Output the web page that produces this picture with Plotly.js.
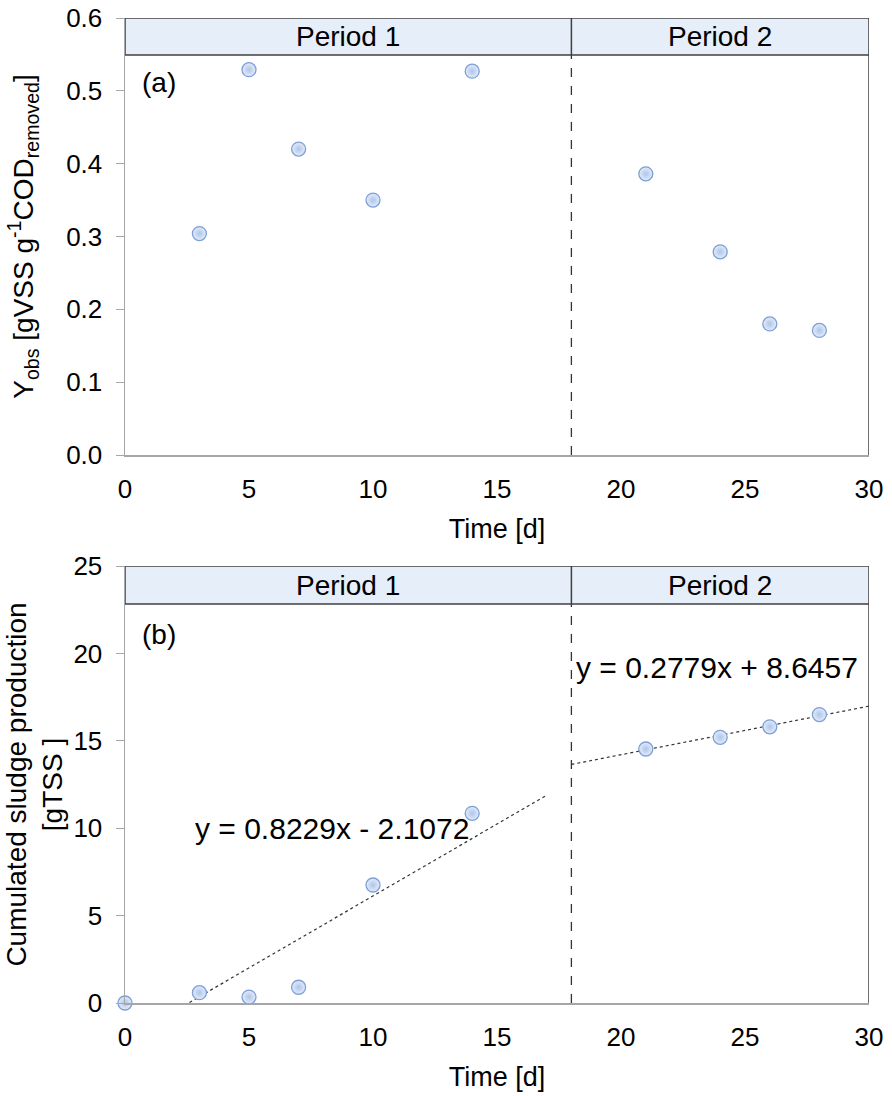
<!DOCTYPE html>
<html>
<head>
<meta charset="utf-8">
<script src="https://cdn.plot.ly/plotly-3.0.1.min.js"></script>
<style>html,body{margin:0;padding:0;background:#fff;}#chart{width:892px;height:1096px;}</style>
</head>
<body>
<div id="chart"></div>
<script>
// ---- data ----
const timeA = [3, 5, 7, 10, 14, 21, 24, 26, 28];
const yobs = [0.304, 0.529, 0.420, 0.350, 0.527, 0.386, 0.279, 0.180, 0.171];
const timeB = [0, 3, 5, 7, 10, 14, 21, 24, 26, 28];
const sludge = [0.0, 0.59, 0.34, 0.90, 6.75, 10.85, 14.53, 15.2, 15.8, 16.5];
const periodBoundary = 18;
const periodLabels = ["Period 1", "Period 2"];
const trend1 = {slope: 0.8229, intercept: -2.1072, xStart: 2.6, xEnd: 17, label: "y = 0.8229x - 2.1072"};
const trend2 = {slope: 0.2779, intercept: 8.6457, xStart: 18, xEnd: 30, label: "y = 0.2779x + 8.6457"};
const xTicks = [0, 5, 10, 15, 20, 25, 30];
const yTicksA = [0, 0.1, 0.2, 0.3, 0.4, 0.5, 0.6];
const yTicksB = [0, 5, 10, 15, 20, 25];

const FONT = "Liberation Sans, Arial, sans-serif";
const TICK = 26;
const marker = {
  size: 14, color: "#e4ecf9",
  gradient: {type: "radial", color: "#afc5ea"},
  line: {color: "#7c9fd8", width: 1.3}
};
function trendTrace(t, xa, ya) {
  return {
    x: [t.xStart, t.xEnd],
    y: [t.slope * t.xStart + t.intercept, t.slope * t.xEnd + t.intercept],
    xaxis: xa, yaxis: ya, mode: "lines",
    line: {color: "#333333", width: 1.2, dash: "dot"},
    hoverinfo: "skip", showlegend: false
  };
}

const traces = [
  {x: timeA, y: yobs, xaxis: "x", yaxis: "y", mode: "markers", marker: marker, showlegend: false, cliponaxis: false},
  trendTrace(trend1, "x2", "y2"),
  trendTrace(trend2, "x2", "y2"),
  {x: timeB, y: sludge, xaxis: "x2", yaxis: "y2", mode: "markers", marker: marker, showlegend: false, cliponaxis: false}
];

const axisX = (anchor) => ({
  range: [0, 30], tickvals: xTicks, ticktext: xTicks.map(String),
  showline: true, linecolor: "#a6a6a6", linewidth: 1.5, ticks: "", ticklabelstandoff: 10,
  showgrid: false, zeroline: false, anchor: anchor,
  tickfont: {family: FONT, size: TICK, color: "#000"},
  title: {text: "Time [d]", font: {family: FONT, size: 27, color: "#000"}, standoff: 16}
});
const axisY = (anchor, range, ticks, fmt, domain) => ({
  range: range, tickvals: ticks, ticktext: ticks.map(v => v.toFixed(fmt)),
  showline: true, linecolor: "#a6a6a6", linewidth: 1.5, ticks: "outside", ticklen: 8,
  ticklabelstandoff: 8,
  tickcolor: "#a6a6a6", showgrid: false, zeroline: false, anchor: anchor, domain: domain,
  tickfont: {family: FONT, size: TICK, color: "#000"}
});

const domA = [(1003 - 455) / 985, 1.0];
const domB = [0, (1003 - 566) / 985];

const layout = {
  width: 892, height: 1096,
  margin: {l: 125, r: 23, t: 18, b: 93},
  paper_bgcolor: "#fff", plot_bgcolor: "#fff",
  showlegend: false,
  xaxis: Object.assign(axisX("y"), {domain: [0, 1]}),
  yaxis: Object.assign(axisY("x", [0, 0.6], yTicksA, 1, domA), {
    title: {text: "Y<sub>obs</sub> [gVSS g<sup>-1</sup>COD<sub>removed</sub>]", font: {family: FONT, size: 28, color: "#000"}, standoff: 24}
  }),
  xaxis2: Object.assign(axisX("y2"), {domain: [0, 1]}),
  yaxis2: Object.assign(axisY("x2", [0, 25], yTicksB, 0, domB), {
    title: {text: "Cumulated sludge production<br>[gTSS ]", font: {family: FONT, size: 28, color: "#000"}, standoff: 2}
  }),
  shapes: [],
  annotations: []
};

// header bands and separators
const panels = [
  {xa: "x", ya: "y", top: 0.6, bottom: 0.6 - 0.6 * 37 / 437, label: "(a)", labelY: 0.6 - 0.6 * 64 / 437},
  {xa: "x2", ya: "y2", top: 25, bottom: 25 - 25 * 38 / 437, label: "(b)", labelY: 25 - 25 * 68 / 437}
];
panels.forEach(p => {
  layout.shapes.push({type: "rect", xref: p.xa, yref: p.ya, x0: 0, x1: 30, y0: p.bottom, y1: p.top,
    fillcolor: "#e6eef9", line: {color: "#404040", width: 1.5}, layer: "above"});
  layout.shapes.push({type: "line", xref: p.xa, yref: p.ya, x0: periodBoundary, x1: periodBoundary, y0: p.bottom, y1: p.top,
    line: {color: "#404040", width: 1.5}, layer: "above"});
  layout.shapes.push({type: "line", xref: p.xa, yref: p.ya, x0: periodBoundary, x1: periodBoundary, y0: 0, y1: p.bottom,
    line: {color: "#333333", width: 1.3, dash: "dash"}, layer: "below"});
  layout.shapes.push({type: "line", xref: p.xa, yref: p.ya, x0: 30, x1: 30, y0: 0, y1: p.bottom,
    line: {color: "#404040", width: 1.5}, layer: "above"});
  const mid = (p.top + p.bottom) / 2;
  layout.annotations.push({xref: p.xa, yref: p.ya, x: periodBoundary / 2, y: mid, text: periodLabels[0],
    showarrow: false, font: {family: FONT, size: 28, color: "#000"}});
  layout.annotations.push({xref: p.xa, yref: p.ya, x: (periodBoundary + 30) / 2, y: mid, text: periodLabels[1],
    showarrow: false, font: {family: FONT, size: 28, color: "#000"}});
  layout.annotations.push({xref: p.xa, yref: p.ya, x: 0.6, y: p.labelY, text: p.label, xanchor: "left",
    showarrow: false, font: {family: FONT, size: 28, color: "#000"}});
});
layout.annotations.push({xref: "x2", yref: "y2", x: 8.35, y: 10.0, text: trend1.label, showarrow: false,
  font: {family: FONT, size: 30, color: "#000"}});
layout.annotations.push({xref: "x2", yref: "y2", x: 23.87, y: 19.2, text: trend2.label, showarrow: false,
  font: {family: FONT, size: 30, color: "#000"}});

Plotly.newPlot("chart", traces, layout, {displayModeBar: false, staticPlot: true});
</script>
</body>
</html>
